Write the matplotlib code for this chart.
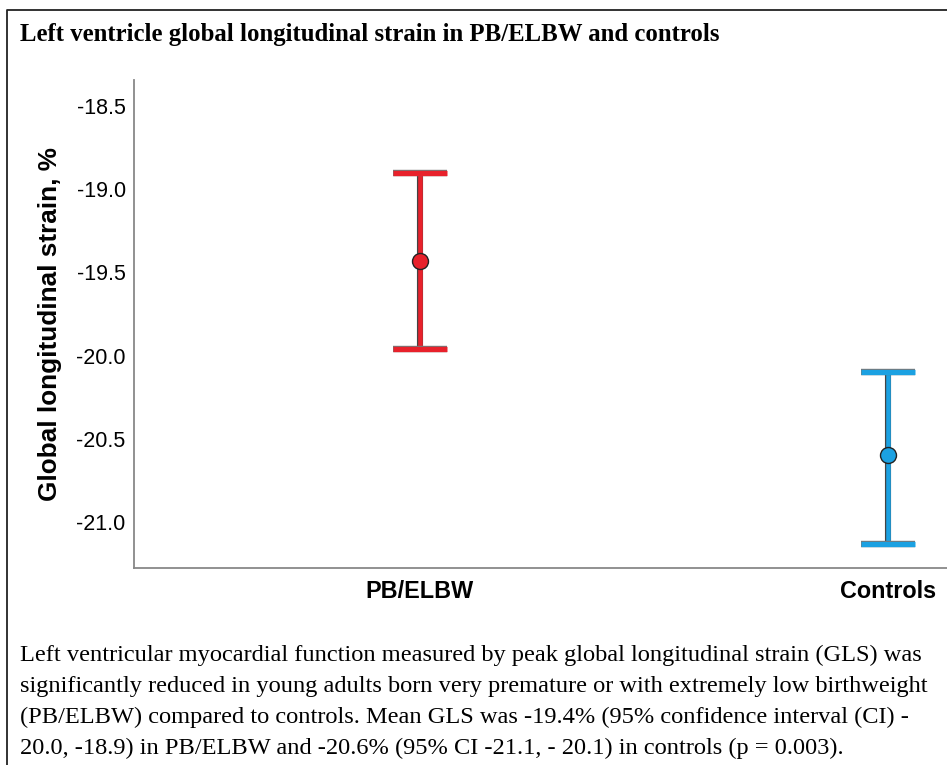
import matplotlib
matplotlib.use("Agg")
import matplotlib.pyplot as plt
import matplotlib.patheffects as pe
from matplotlib.lines import Line2D

# group means and 95% confidence limits of GLS (%)
groups = ["PB/ELBW", "Controls"]
means = [-19.43, -20.60]
ci_low = [-19.96, -21.13]
ci_high = [-18.90, -20.10]
colors = ["#E8212B", "#1BA1E2"]
yticks = [-18.5, -19.0, -19.5, -20.0, -20.5, -21.0]

title = "Left ventricle global longitudinal strain in PB/ELBW and controls"
caption = [
    "Left ventricular myocardial function measured by peak global longitudinal strain (GLS) was",
    "significantly reduced in young adults born very premature or with extremely low birthweight",
    "(PB/ELBW) compared to controls. Mean GLS was -19.4% (95% confidence interval (CI) -",
    "20.0, -18.9) in PB/ELBW and -20.6% (95% CI -21.1, - 20.1) in controls (p = 0.003).",
]

W, H = 947, 765
fig = plt.figure(figsize=(W / 100, H / 100), dpi=100)

# axes box in pixel terms
left, top, bottom = 134, 80, 568
ax = fig.add_axes([left / W, (H - bottom) / H, 1 - left / W, (bottom - top) / H])

cap_half = 0.057
outline = [pe.Stroke(linewidth=4.4, foreground="#444444"), pe.Normal()]
for i, (m, lo, hi, c) in enumerate(zip(means, ci_low, ci_high, colors)):
    stem, = ax.plot([i, i], [lo, hi], color=c, lw=3.3, solid_capstyle="butt", zorder=2)
    stem.set_path_effects(outline)
    for y in (lo, hi):
        cap, = ax.plot([i - cap_half, i + cap_half], [y, y], color=c, lw=3.8,
                       solid_capstyle="butt", zorder=2)
        cap.set_path_effects([pe.Stroke(linewidth=4.6, foreground="#777777"), pe.Normal()])
    ax.plot(i, m, "o", color=c, markersize=11.5, markeredgecolor="#222222",
            markeredgewidth=1.0, zorder=3)

ax.set_xlim(-0.611, 1.126)
ax.set_ylim(-21.276, -18.344)
ax.set_xticks(range(len(groups)))
ax.set_xticklabels(groups, fontsize=16.8, fontweight="bold", family="Liberation Sans")
ax.set_yticks(yticks)
ax.set_yticklabels([f"{v:.1f}" for v in yticks], fontsize=15.5, family="Liberation Sans")
ax.tick_params(length=0, pad=6)
ax.tick_params(axis="x", pad=9)
for side in ("top", "right"):
    ax.spines[side].set_visible(False)
for side in ("left", "bottom"):
    ax.spines[side].set_color("#888888")
    ax.spines[side].set_linewidth(1.3)
ax.set_ylabel("Global longitudinal strain, %", fontsize=18.8, fontweight="bold",
              family="Liberation Sans", labelpad=10)

# frame around the panel
fig.add_artist(Line2D([7 / W, 7 / W, 1.0], [0.0, 1 - 10 / H, 1 - 10 / H],
                      transform=fig.transFigure, color="#222222", linewidth=1.3))

fig.text(20 / W, 1 - 35 / H, title, fontsize=17.8, fontweight="bold",
         family="Liberation Serif", va="center", ha="left")
for k, line in enumerate(caption):
    fig.text(20 / W, 1 - (655 + 31.3 * k) / H, line, fontsize=17.6,
             family="Liberation Serif", va="center", ha="left")

fig.savefig("out.png", dpi=100)
